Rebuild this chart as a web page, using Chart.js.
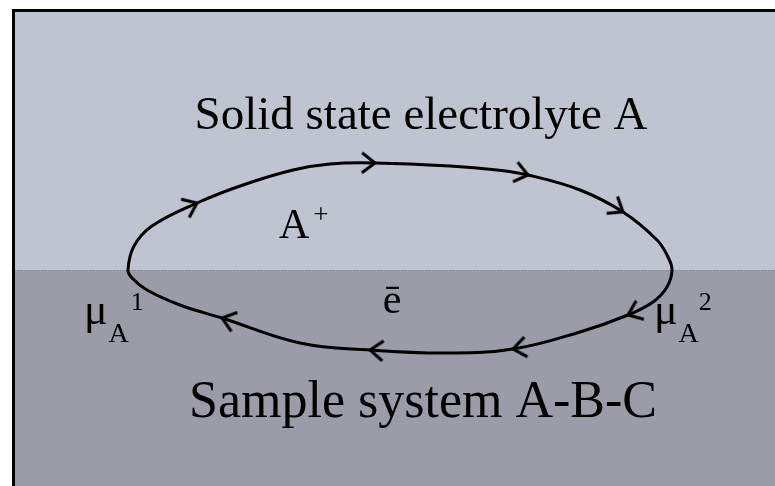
<!DOCTYPE html>
<html>
<head>
<meta charset="utf-8">
<script src="https://cdn.jsdelivr.net/npm/chart.js@4/dist/chart.umd.min.js"></script>
<style>
html, body { margin: 0; padding: 0; background: #ffffff; }
canvas { display: block; }
</style>
</head>
<body>
<canvas id="cell" width="775" height="486"></canvas>
<script>
// Loop path of the cycle (clockwise, top half first), pixel-like units
const loopX = [128, 134, 152, 197, 243, 293, 330, 375, 450, 497, 528, 580, 623, 657, 668, 672,
               667, 653, 628, 580, 513, 447, 370, 300, 222, 180, 147, 132];
const loopY = [270, 246, 226, 203, 185, 170, 164, 163, 166, 170, 175, 190, 212, 240, 257, 270,
               287, 302, 315, 332, 349, 353, 350, 343, 318, 305, 290, 278];
// 1 = an arrow head sits on that point
const arrowAt = [0, 0, 0, 1, 0, 0, 0, 1, 0, 0, 1, 0, 1, 0, 0, 0,
                 0, 0, 1, 0, 1, 0, 1, 0, 1, 0, 0, 0];

// The two phases: solid electrolyte above, sample below
const phaseNames = ['Solid state electrolyte A', 'Sample system A-B-C'];
const interfaceY = 270;

// Label anchors
const titleX = [421, 423];
const titleY = [129, 417];

// Build closed loop: one extra point on each end so the spline closes smoothly
const n = loopX.length;
let loopData = [{x: loopX[n - 1], y: loopY[n - 1]}];
for (var i = 0; i < n; i++) {
    loopData.push({x: loopX[i], y: loopY[i]});
}
loopData.push({x: loopX[0], y: loopY[0]});
loopData.push({x: loopX[1], y: loopY[1]});

function isArrow(idx) {
    if (idx < 1 || idx > n) return false;
    return arrowAt[idx - 1] == 1;
}

// Chevron used as point style, tip at the centre, pointing to +x
const chevron = document.createElement('canvas');
chevron.width = 36;
chevron.height = 36;
(function () {
    const c = chevron.getContext('2d');
    c.strokeStyle = '#000';
    c.lineWidth = 3;
    c.lineCap = 'butt';
    c.beginPath();
    c.moveTo(18 - 13, 18 - 10);
    c.lineTo(18, 18);
    c.lineTo(18 - 13, 18 + 10);
    c.stroke();
})();

function drawRich(ctx, x, y, parts) {
    let cx = x;
    for (var p of parts) {
        ctx.font = p[1] + 'px "Liberation Serif"';
        ctx.fillText(p[0], cx, y + p[2]);
        cx += ctx.measureText(p[0]).width + (p[3] || 0);
    }
}

const backdrop = {
    id: 'backdrop',
    beforeDatasetsDraw(chart) {
        const ctx = chart.ctx;
        const xs = chart.scales.x, ys = chart.scales.y;
        const left = xs.getPixelForValue(15), right = xs.getPixelForValue(775);
        const top = ys.getPixelForValue(12), mid = ys.getPixelForValue(interfaceY);
        const bottom = ys.getPixelForValue(486);
        ctx.save();
        ctx.fillStyle = '#bec4d0';
        ctx.fillRect(left, top, right - left, mid - top);
        ctx.fillStyle = '#9a9ca7';
        ctx.fillRect(left, mid, right - left, bottom - mid);
        // dotted interface line
        ctx.strokeStyle = '#7e808a';
        ctx.lineWidth = 1;
        ctx.setLineDash([1, 2]);
        ctx.beginPath();
        ctx.moveTo(left, mid + 0.5);
        ctx.lineTo(right, mid + 0.5);
        ctx.stroke();
        ctx.setLineDash([]);
        // frame (top and left only)
        ctx.strokeStyle = '#000';
        ctx.lineWidth = 3;
        ctx.beginPath();
        ctx.moveTo(right, top - 1.5);
        ctx.lineTo(left - 1.5, top - 1.5);
        ctx.lineTo(left - 1.5, bottom);
        ctx.stroke();
        ctx.restore();
    },
    afterDatasetsDraw(chart) {
        const ctx = chart.ctx;
        const xs = chart.scales.x, ys = chart.scales.y;
        ctx.save();
        ctx.fillStyle = '#000';
        ctx.textBaseline = 'alphabetic';
        ctx.textAlign = 'center';
        ctx.font = '47px "Liberation Serif"';
        ctx.fillText(phaseNames[0], xs.getPixelForValue(titleX[0]), ys.getPixelForValue(titleY[0]));
        ctx.font = '52px "Liberation Serif"';
        ctx.fillText(phaseNames[1], xs.getPixelForValue(titleX[1]), ys.getPixelForValue(titleY[1]));
        ctx.textAlign = 'left';
        drawRich(ctx, xs.getPixelForValue(279), ys.getPixelForValue(238),
            [['A', 42, 0, 4], ['+', 27, -15]]);
        ctx.textAlign = 'center';
        ctx.font = '42px "Liberation Serif"';
        ctx.fillText('\u0113', xs.getPixelForValue(392), ys.getPixelForValue(313));
        ctx.textAlign = 'left';
        drawRich(ctx, xs.getPixelForValue(84), ys.getPixelForValue(324),
            [['\u03bc', 44, 0, 1], ['A', 28, 18, 2], ['1', 26, -14]]);
        drawRich(ctx, xs.getPixelForValue(654), ys.getPixelForValue(324),
            [['\u03bc', 44, 0, 1], ['A', 28, 18, 0], ['2', 26, -14]]);
        ctx.restore();
    }
};

const cfg = {
    type: 'scatter',
    data: {
        datasets: [{
            label: 'cycle',
            data: loopData,
            showLine: true,
            borderColor: '#000',
            borderWidth: 3,
            tension: 0.4,
            fill: false,
            segment: {
                borderColor: ctx => (ctx.p0DataIndex == 0 || ctx.p0DataIndex == n + 1) ? 'rgba(0,0,0,0)' : '#000'
            },
            pointStyle: chevron,
            pointRadius: ctx => isArrow(ctx.dataIndex) ? 8 : 0,
            pointHoverRadius: 0,
            pointRotation: ctx => {
                const d = ctx.dataset.data;
                const i = ctx.dataIndex;
                if (i < 1 || i > d.length - 2) return 0;
                const a = d[i - 1], b = d[i + 1];
                return Math.atan2(b.y - a.y, b.x - a.x) * 180 / Math.PI;
            }
        }]
    },
    options: {
        responsive: false,
        animation: false,
        events: [],
        layout: { padding: 0 },
        plugins: { legend: { display: false }, tooltip: { enabled: false } },
        scales: {
            x: { type: 'linear', min: 0, max: 775, display: false },
            y: { type: 'linear', min: 0, max: 486, reverse: true, display: false }
        }
    },
    plugins: [backdrop]
};

new Chart(document.getElementById('cell'), cfg);
</script>
</body>
</html>
